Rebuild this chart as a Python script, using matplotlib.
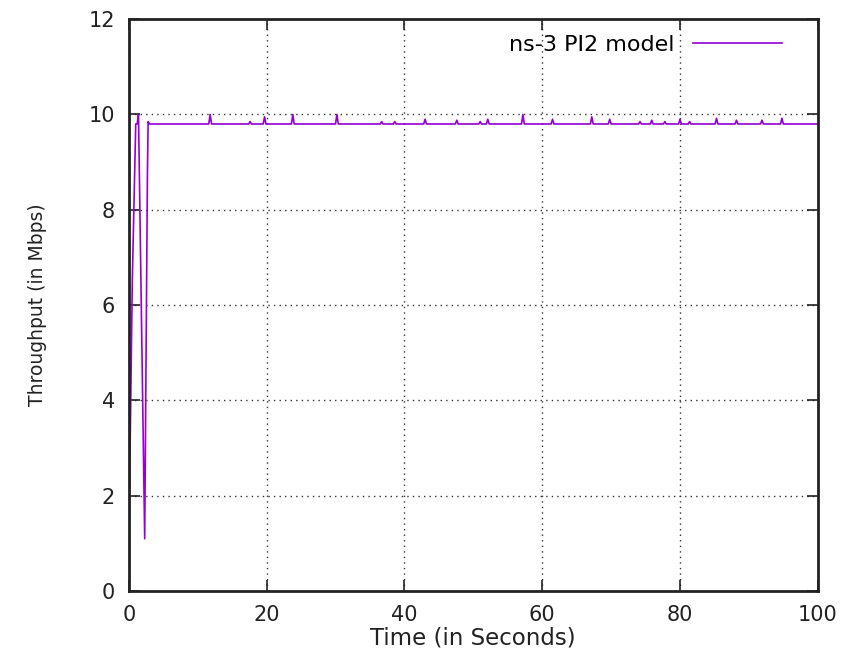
import matplotlib.pyplot as plt

# throughput trace (time in s, Mbps)
time = [0.0, 0.5, 1.0, 1.2, 1.4, 2.3, 2.7, 2.8, 3.0,
        11.6, 11.8, 12.0, 17.4, 17.6, 17.8, 19.5, 19.7, 19.9,
        23.6, 23.8, 24.0, 30.0, 30.2, 30.4, 36.5, 36.7, 36.9,
        38.4, 38.6, 38.8, 42.8, 43.0, 43.2, 47.4, 47.6, 47.8,
        50.8, 51.0, 51.2, 51.9, 52.1, 52.3, 57.0, 57.2, 57.4,
        61.3, 61.5, 61.7, 67.0, 67.2, 67.4, 69.6, 69.8, 70.0,
        74.0, 74.2, 74.4, 75.7, 75.9, 76.1, 77.6, 77.8, 78.0,
        79.8, 80.0, 80.2, 81.2, 81.4, 81.6, 85.1, 85.3, 85.5,
        88.0, 88.2, 88.4, 91.7, 91.9, 92.1, 94.6, 94.8, 95.0,
        100.0]
throughput = [1.0, 6.5, 9.8, 9.8, 10.0, 1.1, 8.8, 9.85, 9.8,
              9.8, 10.0, 9.8, 9.8, 9.85, 9.8, 9.8, 9.95, 9.8,
              9.8, 10.0, 9.8, 9.8, 10.0, 9.8, 9.8, 9.85, 9.8,
              9.8, 9.85, 9.8, 9.8, 9.9, 9.8, 9.8, 9.88, 9.8,
              9.8, 9.85, 9.8, 9.8, 9.9, 9.8, 9.8, 10.0, 9.8,
              9.8, 9.9, 9.8, 9.8, 9.95, 9.8, 9.8, 9.9, 9.8,
              9.8, 9.85, 9.8, 9.8, 9.88, 9.8, 9.8, 9.85, 9.8,
              9.8, 9.9, 9.8, 9.8, 9.85, 9.8, 9.8, 9.92, 9.8,
              9.8, 9.88, 9.8, 9.8, 9.88, 9.8, 9.8, 9.92, 9.8,
              9.8]

plt.rcParams['font.family'] = ['DejaVu Sans']

fig = plt.figure(figsize=(8.59, 6.59), dpi=100)
ax = fig.add_axes([0.150, 0.103, 0.802, 0.868])
ax.plot(time, throughput, color='#9400d3', lw=1.2, label='ns-3 PI2 model')

ax.set_xlim(0, 100)
ax.set_ylim(0, 12)
ax.set_xticks([0, 20, 40, 60, 80, 100])
ax.set_yticks([0, 2, 4, 6, 8, 10, 12])
ax.tick_params(direction='in', length=8, width=1.2, labelsize=15, pad=10,
               top=True, right=True, colors='#222222')
ax.grid(True, color='#333333', linestyle=(0, (1, 3)), linewidth=1)
for s in ax.spines.values():
    s.set_linewidth(2)
    s.set_color('#222222')

ax.set_xlabel('Time (in Seconds)', fontsize=16.5, color='#222222', labelpad=1)
ax.set_ylabel('Throughput (in Mbps)', fontsize=13.5, color='#222222', labelpad=30)

leg = ax.legend(loc='upper right', frameon=False, markerfirst=False,
                fontsize=16, handlelength=4, borderaxespad=0.3,
                bbox_to_anchor=(0.97, 1.0))

fig.savefig('out.png', dpi=100)
